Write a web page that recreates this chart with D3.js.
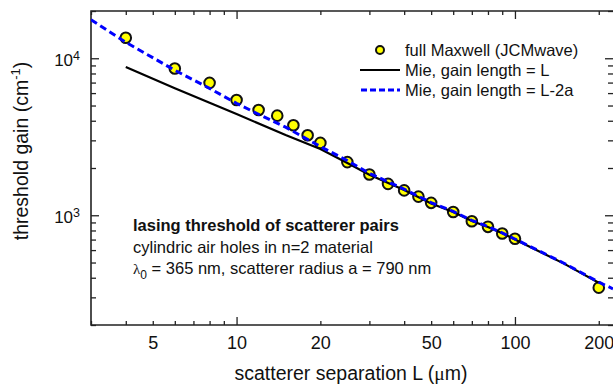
<!DOCTYPE html>
<html><head><meta charset="utf-8">
<script src="https://cdn.jsdelivr.net/npm/d3@7"></script>
<style>
body{margin:0;background:#fff}
svg{display:block;font-family:"Liberation Sans",Arial,sans-serif}
</style></head><body>
<svg id="c" width="613" height="387"></svg>
<script>
// full Maxwell (JCMwave) points
const maxwellL = [4,6,8,10,12,14,16,18,20,25,30,35,40,45,50,60,70,80,90,100,200];
const maxwellG = [13500,8600,6970,5420,4680,4310,3740,3230,2890,2180,1820,1585,1440,1315,1200,1050,916,844,766,708,346];
// Mie, gain length = L
const mieL_L = [4,6,8,10,15,20,25,30,40,50,60,70,80,90,100,150,200];
const mieL_G = [8800,6450,5210,4420,3240,2640,2150,1810,1450,1190,1050,920,842,768,701,492,372];
// Mie, gain length = L-2a
const mie2a_L = [3,4,6,8,10,12,15,20,25,30,40,50,60,70,80,90,100,150,200,225];
const mie2a_G = [17600,12640,8390,6430,5160,4400,3640,2740,2230,1850,1465,1205,1058,928,848,772,706,495,375,340];
// ticks
const xTickLabels = [5,10,20,50,100,200];
const xMajor = [10,100];
const yTickLabels = [1000,10000];
const yExp = ["3","4"];

const m={l:91,r:613,t:11,b:325};
const x=d3.scaleLog().domain([3,225]).range([m.l,m.r]);
const y=d3.scaleLog().domain([200,20000]).range([m.b,m.t]);
const svg=d3.select('#c');

svg.append('defs').append('clipPath').attr('id','clip').append('rect')
  .attr('x',m.l).attr('y',m.t).attr('width',m.r-m.l).attr('height',m.b-m.t);

const axisColor='#222';
function styleAxis(g){g.select('.domain').remove();g.selectAll('line').attr('stroke',axisColor).attr('stroke-width',1.3);}

const xMinor=x.ticks().filter(v=>!xMajor.includes(v));
const yAll=y.ticks();
const yMinor=yAll.filter(v=>!yTickLabels.includes(v));

// bottom ticks
svg.append('g').attr('transform',`translate(0,${m.b})`).call(d3.axisBottom(x).tickValues(xMinor).tickSize(-4).tickFormat('')).call(styleAxis);
svg.append('g').attr('transform',`translate(0,${m.b})`).call(d3.axisBottom(x).tickValues(xMajor).tickSize(-8).tickFormat('')).call(styleAxis);
// top ticks
svg.append('g').attr('transform',`translate(0,${m.t})`).call(d3.axisTop(x).tickValues(xMinor).tickSize(-4).tickFormat('')).call(styleAxis);
svg.append('g').attr('transform',`translate(0,${m.t})`).call(d3.axisTop(x).tickValues(xMajor).tickSize(-8).tickFormat('')).call(styleAxis);
// left ticks
svg.append('g').attr('transform',`translate(${m.l},0)`).call(d3.axisLeft(y).tickValues(yMinor).tickSize(-5).tickFormat('')).call(styleAxis);
svg.append('g').attr('transform',`translate(${m.l},0)`).call(d3.axisLeft(y).tickValues(yTickLabels).tickSize(-8).tickFormat('')).call(styleAxis);
// right ticks
svg.append('g').attr('transform',`translate(${m.r},0)`).call(d3.axisRight(y).tickValues(yMinor).tickSize(-5).tickFormat('')).call(styleAxis);
svg.append('g').attr('transform',`translate(${m.r},0)`).call(d3.axisRight(y).tickValues(yTickLabels).tickSize(-8).tickFormat('')).call(styleAxis);

// frame
svg.append('path').attr('d',`M${m.r+2},${m.t}H${m.l}V${m.b}H${m.r+2}`)
  .attr('fill','none').attr('stroke',axisColor).attr('stroke-width',1.6);

// x tick labels
const xl=svg.append('g').attr('transform',`translate(0,${m.b})`)
  .call(d3.axisBottom(x).tickValues(xTickLabels).tickSize(0).tickFormat(d3.format('d')));
xl.select('.domain').remove();
xl.selectAll('text').attr('y',24).attr('dy',0).attr('font-size',18).attr('fill','#111')
  .attr('font-family','"Liberation Sans",Arial,sans-serif');

// y tick labels
const yl=svg.append('g').selectAll('text').data(yTickLabels).join('text')
  .attr('x',80).attr('y',d=>y(d)+8).attr('text-anchor','end').attr('font-size',17).attr('fill','#111');
yl.append('tspan').text('10');
yl.append('tspan').attr('font-size',12.5).attr('dy',-6.5).text((d,i)=>yExp[i]);

// axis titles
svg.append('text').attr('x',351).attr('y',380).attr('text-anchor','middle').attr('font-size',19.5).attr('fill','#111')
  .html('scatterer separation L (<tspan font-family="Liberation Serif">μ</tspan>m)');
const yt=svg.append('text').attr('transform','translate(28,151) rotate(-90)').attr('text-anchor','middle').attr('font-size',19.5).attr('fill','#111');
yt.append('tspan').text('threshold gain (cm');
yt.append('tspan').attr('font-size',13).attr('dy',-8).text('-1');
yt.append('tspan').attr('dy',8).text(')');

// data
const plot=svg.append('g').attr('clip-path','url(#clip)');
plot.selectAll('circle').data(maxwellL).join('circle')
  .attr('cx',d=>x(d)).attr('cy',(d,i)=>y(maxwellG[i])).attr('r',5.3)
  .attr('fill','#ffff00').attr('stroke','#111').attr('stroke-width',2);
const line=d3.line().x(d=>x(d[0])).y(d=>y(d[1]));
plot.append('path').attr('d',line(mieL_L.map((v,i)=>[v,mieL_G[i]])))
  .attr('fill','none').attr('stroke','#000').attr('stroke-width',2.2);
plot.append('path').attr('d',line(mie2a_L.map((v,i)=>[v,mie2a_G[i]])))
  .attr('fill','none').attr('stroke','#0000ff').attr('stroke-width',3).attr('stroke-dasharray','7,4');

// legend
const lg=svg.append('g').attr('font-size',16.5).attr('fill','#111');
lg.append('circle').attr('cx',380).attr('cy',50).attr('r',4).attr('fill','#ffff00').attr('stroke','#111').attr('stroke-width',2);
lg.append('text').attr('x',405).attr('y',56).text('full Maxwell (JCMwave)');
lg.append('line').attr('x1',360).attr('x2',400).attr('y1',70).attr('y2',70).attr('stroke','#000').attr('stroke-width',2.2);
lg.append('text').attr('x',405).attr('y',76).text('Mie, gain length = L');
lg.append('line').attr('x1',361).attr('x2',400).attr('y1',90).attr('y2',90).attr('stroke','#0000ff').attr('stroke-width',3).attr('stroke-dasharray','6,3');
lg.append('text').attr('x',405).attr('y',96).text('Mie, gain length = L-2a');

// annotation
const an=svg.append('g').attr('font-size',16.5).attr('fill','#111');
an.append('text').attr('x',133).attr('y',231).attr('font-weight','bold').text('lasing threshold of scatterer pairs');
an.append('text').attr('x',133).attr('y',253).text('cylindric air holes in n=2 material');
const t3=an.append('text').attr('x',133).attr('y',274);
t3.append('tspan').attr('font-family','Liberation Serif').attr('font-size',15).text('λ');
t3.append('tspan').attr('font-size',12).attr('dy',5).text('0');
t3.append('tspan').attr('dy',-5).text(' = 365 nm, scatterer radius a = 790 nm');
</script>
</body></html>
